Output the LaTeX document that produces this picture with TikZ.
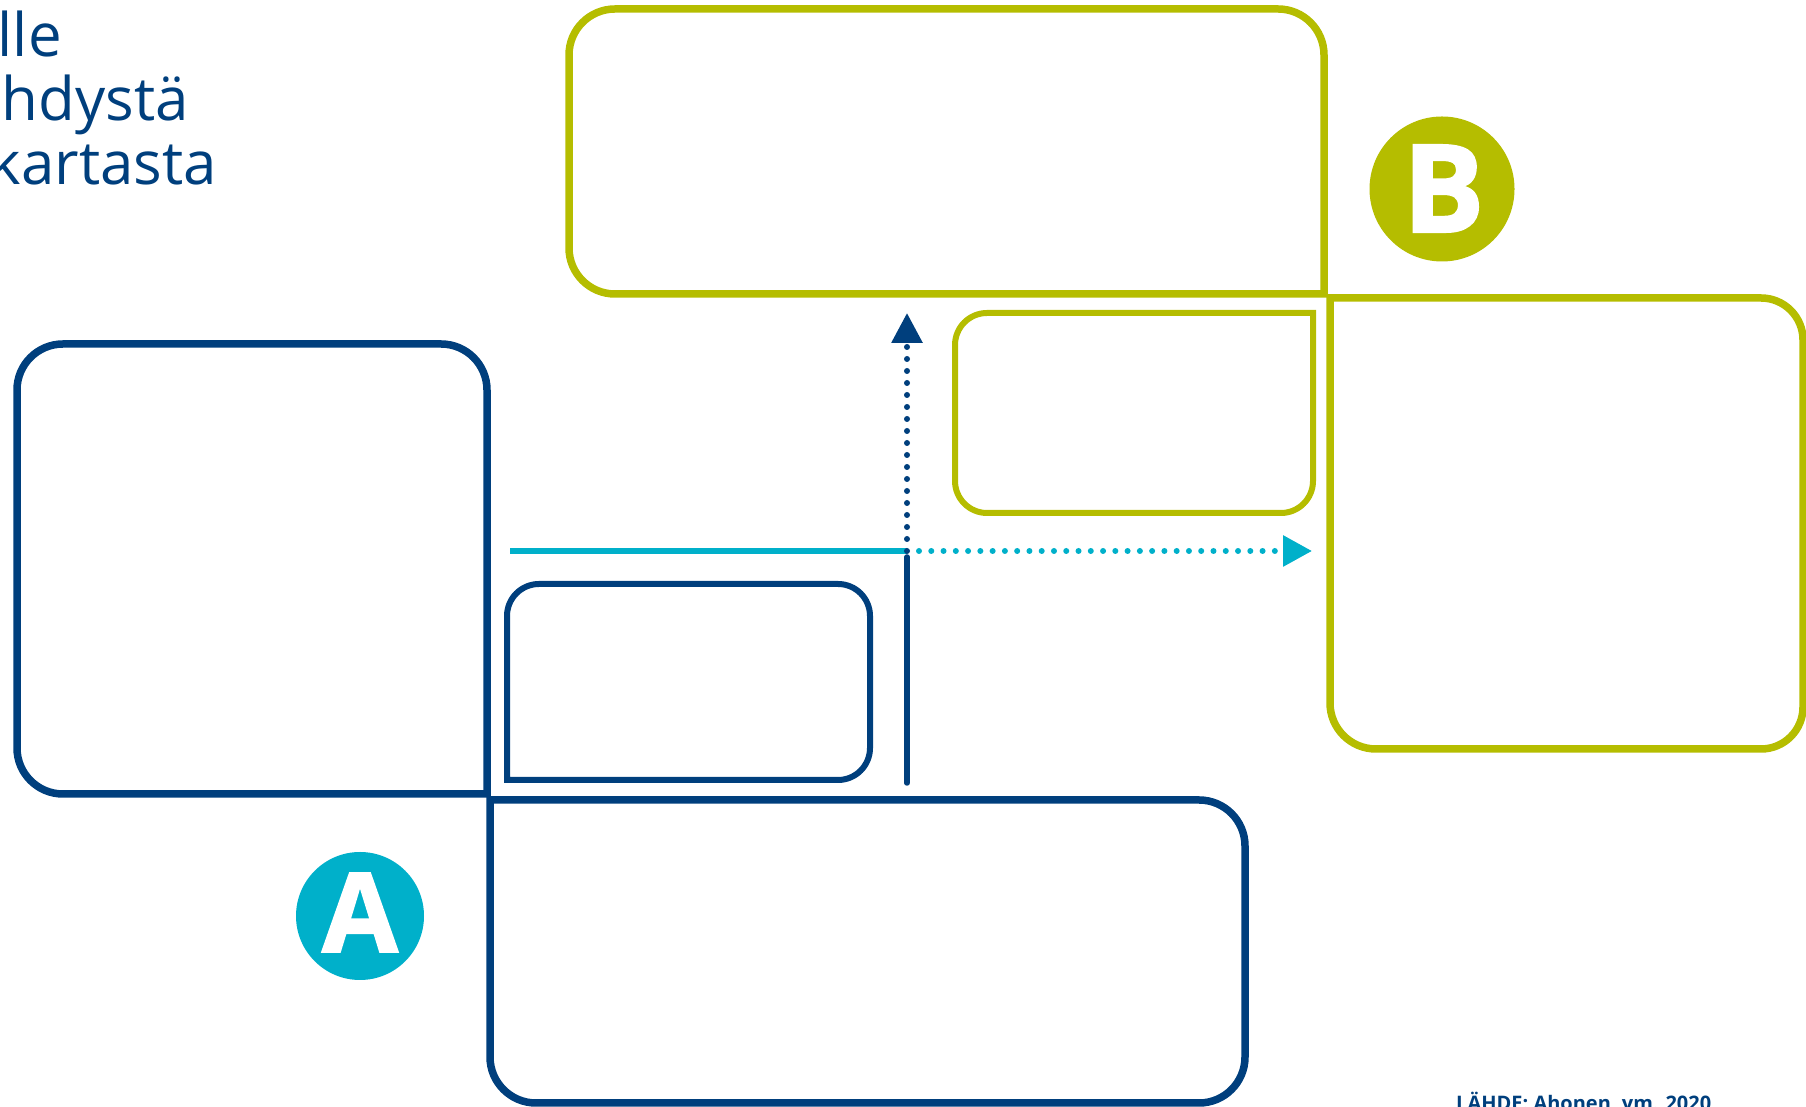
\documentclass[tikz,border=0pt]{standalone}
\usepackage{fontspec}
\setmainfont{Open Sans}
\newfontfamily\heavyfont[FakeBold=1.6]{Open Sans}
\usetikzlibrary{arrows.meta}
\definecolor{dblue}{HTML}{003F7D}
\definecolor{lcyan}{HTML}{00B0CA}
\definecolor{lgreen}{HTML}{B5BD00}
\begin{document}
\begin{tikzpicture}[x=1pt,y=1pt,
  bigblue/.style={draw=dblue,line width=7.5pt},
  smallblue/.style={draw=dblue,line width=6pt},
  biggreen/.style={draw=lgreen,line width=7.5pt},
  smallgreen/.style={draw=lgreen,line width=6pt},
  headtxt/.style={text=dblue,inner sep=0pt,anchor=base east,font=\fontsize{60}{66}\selectfont},
  badge/.style={circle,inner sep=0pt},
  badgeletter/.style={text=white,inner sep=0pt},
  cyandots/.style={draw=lcyan,line width=6pt,line cap=round,dash pattern=on 0pt off 12.27pt},
  bluedots/.style={draw=dblue,line width=6pt,line cap=round,dash pattern=on 0pt off 12pt},
]
\useasboundingbox (0,0) rectangle (1806,1107);

% header text (clipped at the left edge)
\node[headtxt] (h1) at (62,1050) {lle};
\node[headtxt] (h2) at (189,986) {hdystä};
\node[headtxt] (h3) at (217,922) {kartasta};

% top green box (bottom-right corner square)
\path[biggreen] (569,859) -- (569,1052) arc[start angle=180,end angle=90,radius=46]
  -- (1278,1098) arc[start angle=90,end angle=0,radius=46]
  -- (1324,813) -- (615,813) arc[start angle=270,end angle=180,radius=46] -- cycle;

% right green box (top-left corner square)
\path[biggreen] (1330,404) -- (1330,809) -- (1761,809) arc[start angle=90,end angle=0,radius=42]
  -- (1803,400) arc[start angle=0,end angle=-90,radius=42]
  -- (1376,358) arc[start angle=270,end angle=180,radius=46] -- cycle;

% small green box (top-right corner square)
\path[smallgreen] (955,626) -- (955,762) arc[start angle=180,end angle=90,radius=32]
  -- (1313,794) -- (1313,626) arc[start angle=0,end angle=-90,radius=32]
  -- (987,594) arc[start angle=270,end angle=180,radius=32] -- cycle;

% left blue box (bottom-right corner square)
\path[bigblue] (17,359) -- (17,717) arc[start angle=180,end angle=90,radius=46]
  -- (441,763) arc[start angle=90,end angle=0,radius=46]
  -- (487,313) -- (63,313) arc[start angle=270,end angle=180,radius=46] -- cycle;

% small blue box (bottom-left corner square)
\path[smallblue] (507,327) -- (507,491) arc[start angle=180,end angle=90,radius=32]
  -- (838,523) arc[start angle=90,end angle=0,radius=32]
  -- (870,359) arc[start angle=0,end angle=-90,radius=32]
  -- cycle;

% bottom blue box (top-left corner square)
\path[bigblue] (490,50) -- (490,307) -- (1199,307) arc[start angle=90,end angle=0,radius=46]
  -- (1245,50) arc[start angle=0,end angle=-90,radius=46]
  -- (536,4) arc[start angle=270,end angle=180,radius=46] -- cycle;

% badges
\node[badge,fill=lcyan,minimum size=128pt] (ca) at (360,191) {};
\node[badgeletter,font=\heavyfont\bfseries\fontsize{110}{110}\selectfont] (la) at (360,194.5) {A};
\node[badge,fill=lgreen,minimum size=145pt] (cb) at (1442,918) {};
\node[badgeletter,font=\heavyfont\bfseries\fontsize{122}{122}\selectfont] (lb) at (1443.5,918.5) {B};

% connectors
\coordinate (cstart) at (510,556);
\coordinate (cross) at (907,556);
\coordinate (cdots) at (919,556);
\coordinate (ctip) at (1312,556);
\coordinate (vbot) at (907,324);
\coordinate (vsolidtop) at (907,550);
\coordinate (vtip) at (907,794);

\draw[draw=lcyan,line width=5.5pt] (cstart) -- (cross);
\draw[draw=dblue,line width=5.5pt,line cap=round] (vbot) -- (vsolidtop);
\draw[bluedots,-{Triangle[length=30pt,width=30pt,fill=dblue]}] (cross) -- (vtip);
\draw[cyandots,-{Triangle[length=29pt,width=30pt,fill=lcyan]}] (cdots) -- (ctip);

% source
\node[text=dblue,inner sep=0pt,anchor=base west,font=\bfseries\fontsize{20}{20}\selectfont] (src) at (1456,-4) {LÄHDE: Ahonen, ym. 2020};
\end{tikzpicture}
\end{document}
